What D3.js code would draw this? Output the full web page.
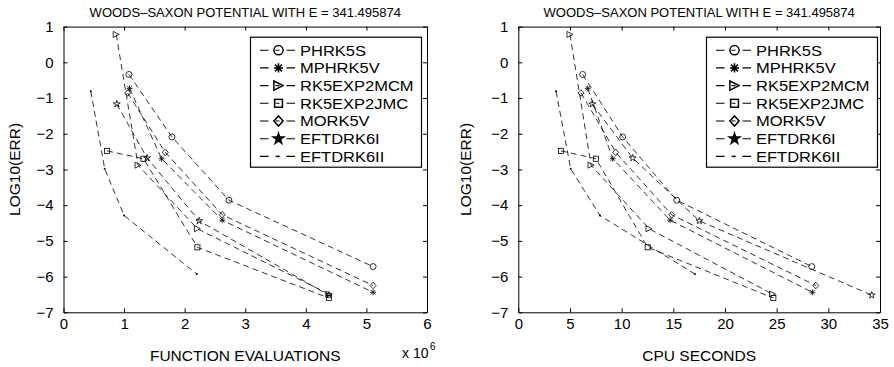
<!DOCTYPE html>
<html>
<head>
<meta charset="utf-8">
<script src="https://cdn.jsdelivr.net/npm/d3@7"></script>
<style>
  body { margin: 0; background: #fff; }
  svg text { font-family: "Liberation Sans", Arial, Helvetica, sans-serif; fill: #000; }
</style>
</head>
<body>
<svg id="chart" width="894" height="367"></svg>
<script>
const methods = ['PHRK5S', 'MPHRK5V', 'RK5EXP2MCM', 'RK5EXP2JMC', 'MORK5V', 'EFTDRK6I', 'EFTDRK6II'];
const markerTypes = ['circle', 'asterisk', 'triangle', 'square', 'diamond', 'star', 'point'];

// LOG10(ERR), same errors in both panels
const errPHRK5S     = [-0.34, -2.09, -3.86, -5.72];
const errMPHRK5V    = [-0.73, -2.70, -4.42, -6.44];
const errRK5EXP2MCM = [ 0.78, -2.88, -4.66, -6.49];
const errRK5EXP2JMC = [-2.48, -2.70, -5.18, -6.60];
const errMORK5V     = [-0.86, -2.52, -4.27, -6.25];
const errEFTDRK6I   = [-1.17, -2.68, -4.44, -6.52];
const errEFTDRK6II  = [-0.81, -2.98, -4.29, -5.93];

// function evaluations, x 10^6
const fevPHRK5S     = [1.08, 1.79, 2.73, 5.11];
const fevMPHRK5V    = [1.09, 1.62, 2.62, 5.11];
const fevRK5EXP2MCM = [0.87, 1.23, 2.21, 4.38];
const fevRK5EXP2JMC = [0.72, 1.32, 2.21, 4.38];
const fevMORK5V     = [1.06, 1.68, 2.62, 5.11];
const fevEFTDRK6I   = [0.88, 1.38, 2.24, 4.38];
const fevEFTDRK6II  = [0.45, 0.68, 1.00, 2.20];

// CPU seconds
const cpuPHRK5S     = [6.23, 10.10, 15.33, 28.40];
const cpuMPHRK5V    = [6.72, 9.14, 14.69, 28.46];
const cpuRK5EXP2MCM = [5.00, 7.04, 12.65, 24.60];
const cpuRK5EXP2JMC = [4.13, 7.52, 12.52, 24.68];
const cpuMORK5V     = [6.07, 9.43, 14.85, 28.79];
const cpuEFTDRK6I   = [7.16, 11.07, 17.52, 34.20];
const cpuEFTDRK6II  = [3.65, 5.07, 7.90, 17.10];

const yTicks = [-7, -6, -5, -4, -3, -2, -1, 0, 1];
const fevTicks = [0, 1, 2, 3, 4, 5, 6];
const cpuTicks = [0, 5, 10, 15, 20, 25, 30, 35];

const titleText = 'WOODS\u2013SAXON POTENTIAL WITH E = 341.495874';

const errs = [errPHRK5S, errMPHRK5V, errRK5EXP2MCM, errRK5EXP2JMC, errMORK5V, errEFTDRK6I, errEFTDRK6II];
const fevs = [fevPHRK5S, fevMPHRK5V, fevRK5EXP2MCM, fevRK5EXP2JMC, fevMORK5V, fevEFTDRK6I, fevEFTDRK6II];
const cpus = [cpuPHRK5S, cpuMPHRK5V, cpuRK5EXP2MCM, cpuRK5EXP2JMC, cpuMORK5V, cpuEFTDRK6I, cpuEFTDRK6II];

const svg = d3.select('#chart');

function marker(g, type, s, solidStar) {
  if (type === 'circle') {
    g.append('circle').attr('r', s).attr('fill', 'none').attr('stroke', '#000');
  } else if (type === 'square') {
    g.append('rect').attr('x', -s * 0.85).attr('y', -s * 0.85)
      .attr('width', s * 1.7).attr('height', s * 1.7).attr('fill', 'none').attr('stroke', '#000');
  } else if (type === 'triangle') {
    g.append('path').attr('d', `M${-s},${-s}L${s},0L${-s},${s}Z`).attr('fill', 'none').attr('stroke', '#000');
  } else if (type === 'diamond') {
    g.append('path').attr('d', `M0,${-s * 1.1}L${s},0L0,${s * 1.1}L${-s},0Z`).attr('fill', 'none').attr('stroke', '#000');
  } else if (type === 'star') {
    const r = s * 1.2;
    g.append('path').attr('d', d3.symbol().type(d3.symbolStar).size(r * r / 0.89)())
      .attr('fill', solidStar ? '#000' : 'none').attr('stroke', '#000');
  } else if (type === 'asterisk') {
    const a = s * 0.75;
    g.append('path').attr('d', `M${-s},0H${s}M0,${-s}V${s}M${-a},${-a}L${a},${a}M${-a},${a}L${a},${-a}`)
      .attr('stroke', '#000');
  } else if (type === 'point') {
    g.append('circle').attr('r', 1).attr('fill', '#000');
  }
}

function panel(xVals, xTicks, xMax, left, right, xLabel, legendX, yLabelX) {
  const top = 26.6, bottom = 312.3;
  const x = d3.scaleLinear().domain([0, xMax]).range([left, right]);
  const y = d3.scaleLinear().domain([-7, 1]).range([bottom, top]);
  const g = svg.append('g');
  const fmt = d3.format('d');

  g.append('g').attr('transform', `translate(0,${bottom})`)
    .call(d3.axisBottom(x).tickValues(xTicks).tickFormat(fmt).tickSizeInner(-4).tickSizeOuter(0).tickPadding(6));
  g.append('g').attr('transform', `translate(0,${top})`)
    .call(d3.axisTop(x).tickValues(xTicks).tickSizeInner(-4).tickSizeOuter(0).tickFormat(''));
  g.append('g').attr('transform', `translate(${left},0)`)
    .call(d3.axisLeft(y).tickValues(yTicks).tickFormat(fmt).tickSizeInner(-4).tickSizeOuter(0).tickPadding(10));
  g.append('g').attr('transform', `translate(${right},0)`)
    .call(d3.axisRight(y).tickValues(yTicks).tickSizeInner(-4).tickSizeOuter(0).tickFormat(''));
  g.selectAll('.tick text').attr('font-size', 15).attr('font-family', null);
  g.selectAll('.domain, .tick line').attr('stroke', '#000');

  const line = d3.line().x(d => x(d[0])).y(d => y(d[1]));
  methods.forEach((m, i) => {
    const pts = xVals[i].map((v, j) => [v, errs[i][j]]);
    g.append('path').attr('d', line(pts)).attr('fill', 'none')
      .attr('stroke', '#000').attr('stroke-width', 0.8).attr('stroke-dasharray', '6,4');
    pts.forEach(p => {
      const mg = g.append('g').attr('transform', `translate(${x(p[0])},${y(p[1])})`)
        .attr('stroke-width', 0.8);
      marker(mg, markerTypes[i], 3, false);
    });
  });

  // legend
  const lg = g.append('g').attr('transform', `translate(${legendX},36.7)`);
  lg.append('rect').attr('x', 0.5).attr('y', 0.5).attr('width', 171).attr('height', 130)
    .attr('fill', '#fff').attr('stroke', '#000').attr('stroke-width', 1.2);
  methods.forEach((m, i) => {
    const ry = 13.5 + i * 17.7;
    lg.append('line').attr('x1', 10).attr('x2', 45).attr('y1', ry).attr('y2', ry)
      .attr('stroke', '#000').attr('stroke-width', 1.1).attr('stroke-dasharray', '8.5,7,4,7,8.5');
    const mg = lg.append('g').attr('transform', `translate(28.5,${ry})`).attr('stroke-width', 1.5);
    marker(mg, markerTypes[i], 4.6, true);
    lg.append('text').attr('transform', `translate(50,${ry}) scale(1.1,1)`).attr('dy', '0.36em')
      .attr('font-size', 15).text(m);
  });

  g.append('text').attr('x', (left + right) / 2).attr('y', 16.5)
    .attr('text-anchor', 'middle').attr('font-size', 13).text(titleText);
  g.append('text').attr('x', (left + right) / 2).attr('y', 361)
    .attr('text-anchor', 'middle').attr('font-size', 15.5).text(xLabel);
  g.append('text').attr('transform', `translate(${yLabelX},${(top + bottom) / 2}) rotate(-90)`)
    .attr('text-anchor', 'middle').attr('font-size', 15.5).text('LOG10(ERR)');
  return { g, x, y };
}

const p1 = panel(fevs, fevTicks, 6, 63.5, 427, 'FUNCTION EVALUATIONS', 250, 19.5);
p1.g.append('text').attr('x', 402).attr('y', 358).attr('font-size', 14).text('x 10');
p1.g.append('text').attr('x', 430).attr('y', 350).attr('font-size', 10).text('6');

panel(cpus, cpuTicks, 35, 518.3, 880, 'CPU SECONDS', 706, 470.5);
</script>
</body>
</html>
